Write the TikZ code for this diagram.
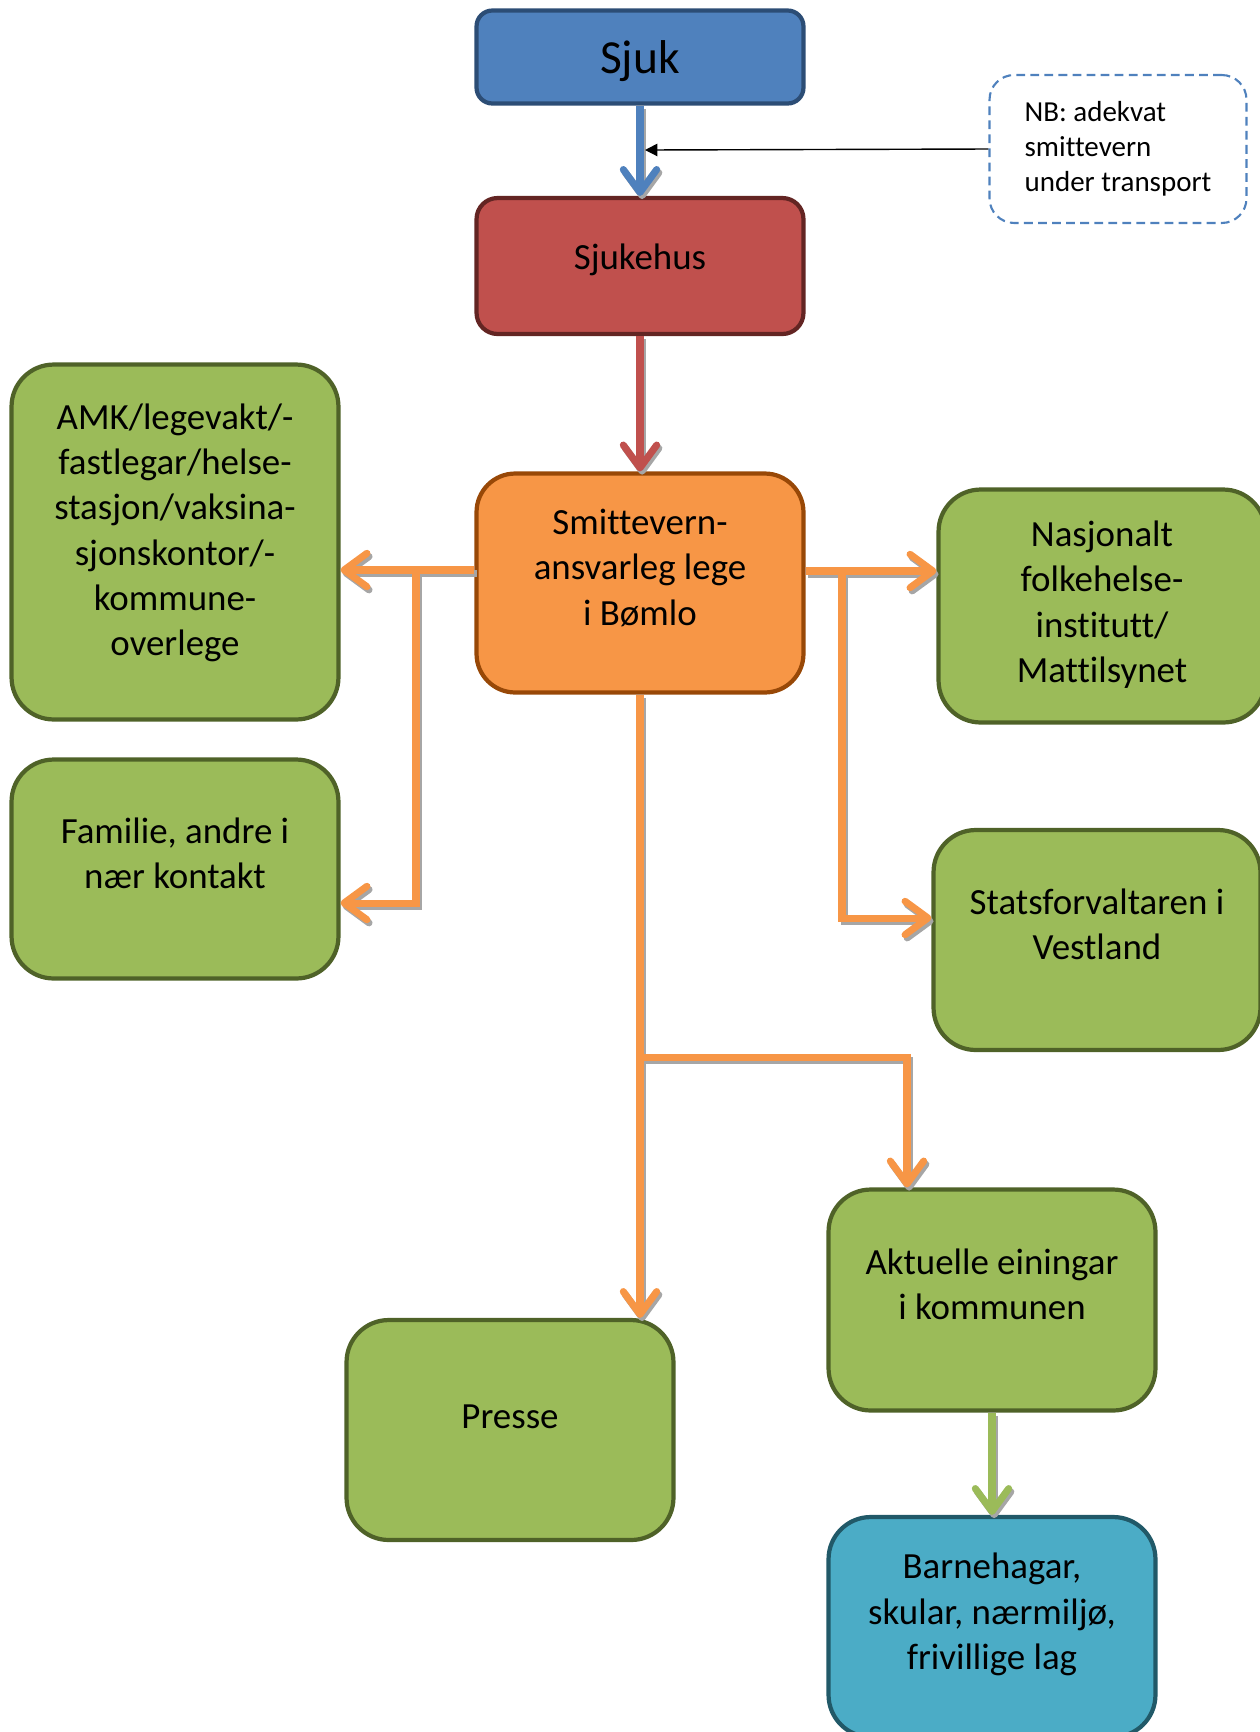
\documentclass[tikz,border=0pt]{standalone}
\usepackage{fontspec}
\setmainfont{Carlito}[Ligatures=NoCommon]
\usetikzlibrary{arrows.meta}

\definecolor{sjukblue}{HTML}{4F81BD}
\definecolor{sjukblueline}{HTML}{2C4D75}
\definecolor{hospred}{HTML}{C0504D}
\definecolor{hospredline}{HTML}{632523}
\definecolor{legeorange}{HTML}{F79646}
\definecolor{legeorangeline}{HTML}{984807}
\definecolor{unitgreen}{HTML}{9BBB59}
\definecolor{unitgreenline}{HTML}{4F6228}
\definecolor{localblue}{HTML}{4BACC6}
\definecolor{localblueline}{HTML}{215968}

\begin{document}
\begin{tikzpicture}[x=0.02cm, y=-0.02cm]
  \tikzset{
    base_box/.style={draw, line width=2.4pt, align=center, minimum width=6.54cm, text depth=18pt, font=\fontsize{21}{25.8}\selectfont},
    sjuk_box/.style={base_box, fill=sjukblue, draw=sjukblueline, rounded corners=9pt, minimum height=1.86cm, text depth=0pt, font=\fontsize{27}{32}\selectfont},
    hosp_box/.style={base_box, fill=hospred, draw=hospredline, rounded corners=12pt, minimum height=2.72cm, text depth=11pt},
    lege_box/.style={base_box, fill=legeorange, draw=legeorangeline, rounded corners=22pt, minimum height=4.38cm},
    green_box/.style={base_box, fill=unitgreen, draw=unitgreenline, rounded corners=24pt, minimum height=4.4cm},
    local_box/.style={base_box, fill=localblue, draw=localblueline, rounded corners=24pt, minimum height=4.4cm},
    note_box/.style={draw=sjukblue, dashed, line width=1.2pt, dash pattern=on 5pt off 3pt, rounded corners=14pt, align=left, minimum width=5.14cm, minimum height=2.96cm, font=\fontsize{16.5}{20}\selectfont},
    flow_shadow/.style={line width=4pt, draw=black!35, -{Straight Barb[length=13pt, width=19pt, round]}},
    flow_line/.style={line width=4pt, -{Straight Barb[length=13pt, width=19pt, round]}},
    note_arrow/.style={line width=0.8pt, -{Triangle[length=7pt, width=7pt]}}
  }

  % Boksar
  \useasboundingbox (0,0) rectangle (1259,1732);
  \node[sjuk_box] (sjuk) at (640,57) {Sjuk};
  \node[hosp_box] (sjukehus) at (640,266) {Sjukehus};
  \node[lege_box] (smitte) at (640,583) {Smittevern-\\ansvarleg lege\\i Bømlo};
  \node[note_box] (nb) at (1118,149) {NB: adekvat\\smittevern\\under transport};

  % Mottakarar
  \node[green_box, minimum height=7.1cm, text depth=14pt] (amk) at (175,542) {AMK/legevakt/-\\fastlegar/helse-\\stasjon/vaksina-\\sjonskontor/-\\kommune-\\overlege};
  \node[green_box, minimum height=4.38cm] (familie) at (175,869) {Familie, andre i\\nær kontakt};
  \node[green_box, minimum height=4.66cm, text depth=5pt] (nasj) at (1102,606) {Nasjonalt\\folkehelse-\\institutt/\\Mattilsynet};
  \node[green_box] (stats) at (1097,940) {Statsforvaltaren i\\Vestland};
  \node[green_box, minimum height=4.42cm] (aktuelle) at (992,1300) {Aktuelle einingar\\i kommunen};
  \node[green_box, text depth=15pt] (presse) at (510,1430) {Presse};
  \node[local_box] (barne) at (992,1627) {Barnehagar,\\skular, nærmiljø,\\frivillige lag};

  % Knekkpunkt
  \coordinate (transport) at (645,150);
  \coordinate (lsplit) at (416,570);
  \coordinate (lbend) at (416,903);
  \coordinate (rsplit) at (842,571);
  \coordinate (rbend) at (842,918);
  \coordinate (dsplit) at (640,1057);
  \coordinate (dbend) at (907,1057);

  % Skuggar
  \begin{scope}[transform canvas={shift={(1.2pt,-1.8pt)}}]
    \draw[flow_shadow] (sjuk.south) -- (sjukehus.north);
    \draw[flow_shadow] (sjukehus.south) -- (smitte.north);
    \draw[flow_shadow] (lsplit -| smitte.west) -- (lsplit -| amk.east);
    \draw[flow_shadow] (lsplit) -- (lbend) -- (lbend -| familie.east);
    \draw[flow_shadow] (rsplit -| smitte.east) -- (rsplit -| nasj.west);
    \draw[flow_shadow] (rsplit) -- (rbend) -- (rbend -| stats.west);
    \draw[flow_shadow] (smitte.south) -- (smitte.south |- presse.north);
    \draw[flow_shadow] (dsplit) -- (dbend) -- (dbend |- aktuelle.north);
    \draw[flow_shadow] (aktuelle.south) -- (barne.north);
  \end{scope}

  % Piler
  \draw[flow_line, draw=sjukblue] (sjuk.south) -- (sjukehus.north);
  \draw[note_arrow] (nb.west) -- (transport);
  \draw[flow_line, draw=hospred] (sjukehus.south) -- (smitte.north);
  \draw[flow_line, draw=legeorange] (lsplit -| smitte.west) -- (lsplit -| amk.east);
  \draw[flow_line, draw=legeorange] (lsplit) -- (lbend) -- (lbend -| familie.east);
  \draw[flow_line, draw=legeorange] (rsplit -| smitte.east) -- (rsplit -| nasj.west);
  \draw[flow_line, draw=legeorange] (rsplit) -- (rbend) -- (rbend -| stats.west);
  \draw[flow_line, draw=legeorange] (smitte.south) -- (smitte.south |- presse.north);
  \draw[flow_line, draw=legeorange] (dsplit) -- (dbend) -- (dbend |- aktuelle.north);
  \draw[flow_line, draw=unitgreen] (aktuelle.south) -- (barne.north);
\end{tikzpicture}
\end{document}
